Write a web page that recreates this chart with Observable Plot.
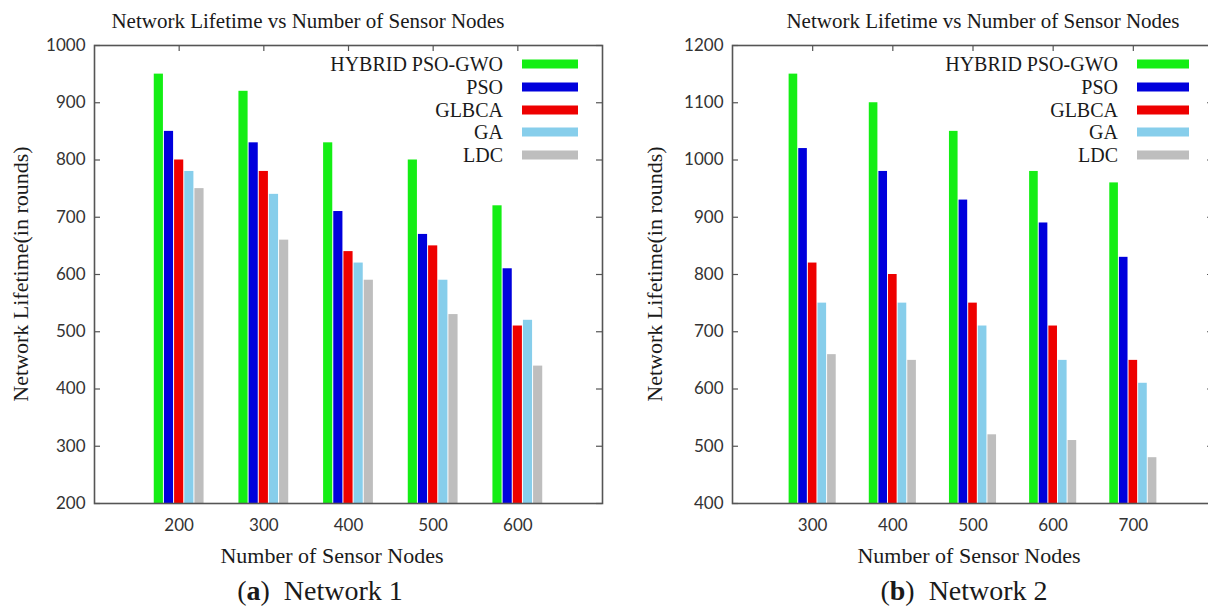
<!DOCTYPE html>
<html>
<head>
<meta charset="utf-8">
<script src="https://cdn.jsdelivr.net/npm/d3@7"></script>
<script src="https://cdn.jsdelivr.net/npm/@observablehq/plot@0.6"></script>
<style>
  html, body { margin: 0; padding: 0; background: #fff; overflow: hidden; }
  #fig { position: relative; width: 1208px; height: 609px; overflow: hidden; background: #fff; }
  #fig svg { position: absolute; top: 0; }
  .serif { position: absolute; font-family: "Liberation Serif", "Times New Roman", serif; color: #1a1a1a; white-space: nowrap; }
  .center { transform: translate(-50%, -50%); }
  .ytitle { transform: translate(-50%, -50%) rotate(-90deg); }
  .legend-label { position: absolute; transform: translateY(-50%); }
  .swatch { position: absolute; height: 9px; transform: translateY(-50%); }
</style>
</head>
<body>
<div id="fig"></div>
<script>
// Algorithms compared, in legend order, with their bar colours
const algorithms = ["HYBRID PSO-GWO", "PSO", "GLBCA", "GA", "LDC"];
const colors = ["#14ee14", "#0000dc", "#ee0000", "#87ceeb", "#bebebe"];

// (a) Network 1 — network lifetime in rounds
const nodes1 = [200, 300, 400, 500, 600];
const hybrid1 = [950, 920, 830, 800, 720];
const pso1 = [850, 830, 710, 670, 610];
const glbca1 = [800, 780, 640, 650, 510];
const ga1 = [780, 740, 620, 590, 520];
const ldc1 = [750, 660, 590, 530, 440];
const yTicks1 = [200, 300, 400, 500, 600, 700, 800, 900, 1000];

// (b) Network 2 — network lifetime in rounds
const nodes2 = [300, 400, 500, 600, 700];
const hybrid2 = [1150, 1100, 1050, 980, 960];
const pso2 = [1020, 980, 930, 890, 830];
const glbca2 = [820, 800, 750, 710, 650];
const ga2 = [750, 750, 710, 650, 610];
const ldc2 = [660, 650, 520, 510, 480];
const yTicks2 = [400, 500, 600, 700, 800, 900, 1000, 1100, 1200];

const chartTitle = "Network Lifetime vs Number of Sensor Nodes";
const xTitle = "Number of Sensor Nodes";
const yTitle = "Network Lifetime(in rounds)";

const fig = document.getElementById("fig");

function tidy(nodes, seriesList) {
  const rows = [];
  seriesList.forEach((values, k) => {
    values.forEach((v, i) => rows.push({n: nodes[i], k, algo: algorithms[k], value: v}));
  });
  return rows;
}

function addText(html, cls, left, top, size, extra = "") {
  const el = document.createElement("div");
  el.className = "serif " + cls;
  el.style.left = left + "px";
  el.style.top = top + "px";
  el.style.fontSize = size + "px";
  if (extra) el.style.cssText += extra;
  el.innerHTML = html;
  fig.appendChild(el);
  return el;
}

function panel(cfg) {
  const H = 540;
  const marginTop = 45, marginBottom = H - 503;
  const frameW = cfg.width - cfg.marginLeft - cfg.marginRight;
  const frameH = H - marginTop - marginBottom;
  const unit = 12; // width of one bar, in x units
  const rows = tidy(cfg.nodes, cfg.series);
  const y0 = cfg.yDomain[0];

  const svg = Plot.plot({
    width: cfg.width,
    height: H,
    marginLeft: cfg.marginLeft,
    marginRight: cfg.marginRight,
    marginTop,
    marginBottom,
    style: {fontFamily: "Lato, 'Open Sans', sans-serif", fontSize: "17px", color: "#333", background: "transparent", overflow: "visible"},
    x: {type: "linear", domain: cfg.xDomain, axis: null},
    y: {type: "linear", domain: cfg.yDomain, axis: null},
    color: {domain: algorithms, range: colors},
    marks: [
      Plot.rectY(rows, {
        x1: d => d.n + (d.k - 2.5) * unit,
        x2: d => d.n + (d.k - 1.5) * unit,
        y1: y0,
        y2: "value",
        fill: "algo",
        insetLeft: 0.5,
        insetRight: 0.5
      }),
      // inward tick marks on left, right and top
      Plot.tickY(cfg.yTicks, {y: d => d, stroke: "#555", strokeWidth: 1.2, insetRight: frameW - 6}),
      Plot.tickY(cfg.yTicks, {y: d => d, stroke: "#555", strokeWidth: 1.2, insetLeft: frameW - 6}),
      Plot.tickX(cfg.nodes, {x: d => d, stroke: "#555", strokeWidth: 1.2, insetBottom: frameH - 6}),
      Plot.frame({stroke: "#555", strokeWidth: 1.6}),
      Plot.axisY({ticks: cfg.yTicks, tickSize: 0, tickPadding: 9, label: null, tickFormat: d => String(d)}),
      Plot.axisX({ticks: cfg.nodes, tickSize: 0, tickPadding: 15, label: null, tickFormat: d => String(d)})
    ]
  });
  svg.style.left = cfg.left + "px";
  fig.appendChild(svg);

  addText(chartTitle, "center", cfg.titleX, 21, 21);
  addText(xTitle, "center", cfg.xTitleX, 556, 22);
  addText(yTitle, "ytitle", cfg.yTitleX, 274, 22);
  addText(cfg.caption, "center", cfg.captionX, 591, 28);

  // legend in the top-right corner of the frame
  algorithms.forEach((name, k) => {
    const y = 64 + k * 22.75;
    addText(name, "legend-label", 0, 0, 20, `left:auto; right:${1208 - cfg.legendTextRight}px; top:${y}px;`);
    const sw = document.createElement("div");
    sw.className = "swatch";
    sw.style.left = cfg.swatchLeft + "px";
    sw.style.width = cfg.swatchWidth + "px";
    sw.style.top = y + "px";
    sw.style.background = colors[k];
    fig.appendChild(sw);
  });
}

panel({
  left: 0, width: 640, marginLeft: 94, marginRight: 38,
  xDomain: [100, 700], yDomain: [200, 1000], yTicks: yTicks1,
  nodes: nodes1, series: [hybrid1, pso1, glbca1, ga1, ldc1],
  caption: "(<b>a</b>)&nbsp; Network 1",
  titleX: 308, xTitleX: 332, captionX: 320,
  yTitleX: 21, legendTextRight: 503, swatchLeft: 522, swatchWidth: 56
});

panel({
  left: 620, width: 610, marginLeft: 112, marginRight: 17,
  xDomain: [200, 800], yDomain: [400, 1200], yTicks: yTicks2,
  nodes: nodes2, series: [hybrid2, pso2, glbca2, ga2, ldc2],
  caption: "(<b>b</b>)&nbsp; Network 2",
  titleX: 983, xTitleX: 969, captionX: 964,
  yTitleX: 655, legendTextRight: 1118, swatchLeft: 1137, swatchWidth: 52
});
</script>
</body>
</html>
